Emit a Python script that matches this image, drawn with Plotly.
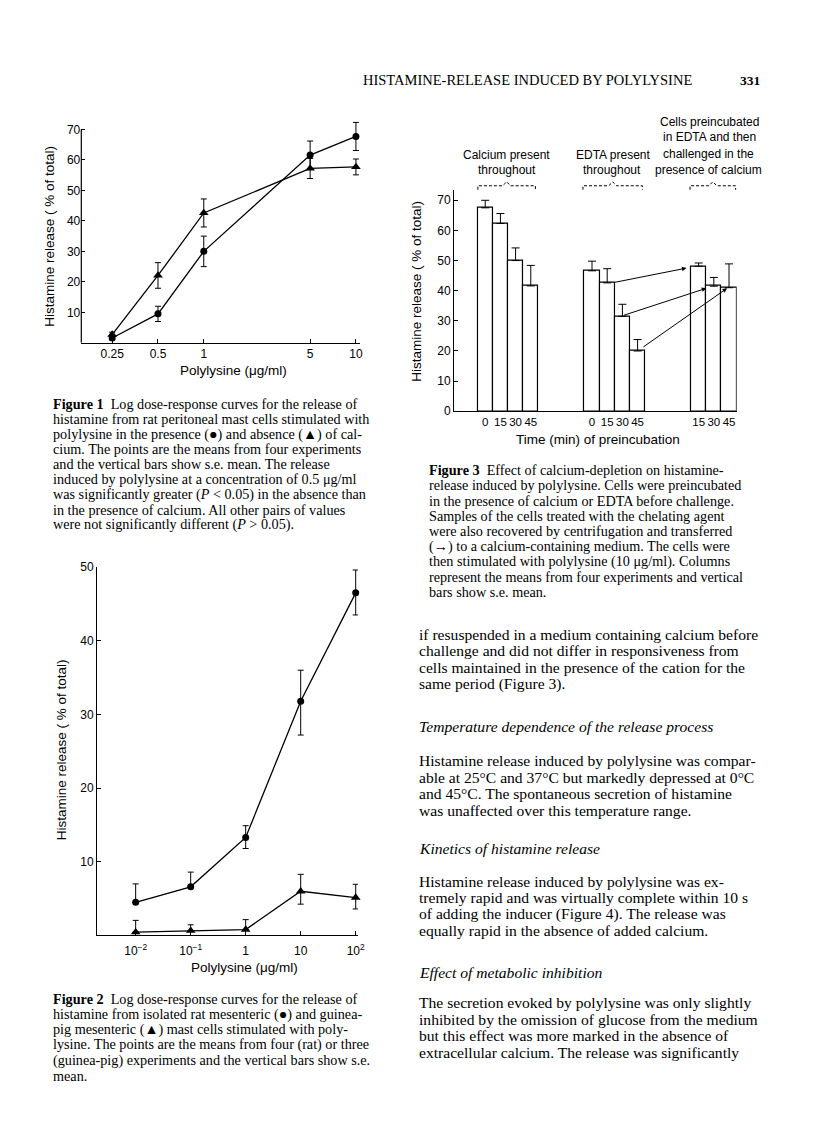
import plotly.graph_objects as go

W, H = 816, 1142
SANS = "Liberation Sans, Arial, Helvetica, sans-serif"
SERIF = "Liberation Serif, Times New Roman, serif"

# ---------------- data ----------------
# Figure 1
conc1 = [0.25, 0.5, 1, 5, 10]
conc1_labels = ["0.25", "0.5", "1", "5", "10"]
ca_present = [1.6, 9.5, 30.0, 61.6, 67.7]
ca_present_se = [0.6, 2.5, 5.0, 4.6, 4.6]
ca_absent = [2.7, 22.1, 42.6, 57.2, 57.7]
ca_absent_se = [0.8, 4.2, 4.6, 3.3, 2.6]
fig1_yticks = [10, 20, 30, 40, 50, 60, 70]

# Figure 2
conc2 = [0.01, 0.1, 1, 10, 100]
conc2_labels = ["10<sup>\u22122</sup>", "10<sup>\u22121</sup>", "1", "10", "10<sup>2</sup>"]
rat = [4.5, 6.6, 13.3, 31.8, 46.5]
rat_err_up = [2.5, 2.0, 1.6, 4.2, 3.1]
rat_err_down = [0, 0, 1.5, 4.6, 3.0]
guinea_pig = [0.45, 0.65, 0.8, 6.0, 5.15]
gp_err_up = [1.6, 0.8, 1.35, 2.3, 1.8]
gp_err_down = [0, 0, 0, 1.75, 1.55]
fig2_yticks = [10, 20, 30, 40, 50]

# Figure 3
time_ca = ["0", "15", "30", "45"]
ca_throughout = [67.5, 62.3, 50.0, 41.6]
ca_throughout_se = [2.5, 3.3, 4.2, 6.8]
time_edta = ["0", "15", "30", "45"]
edta_throughout = [46.6, 42.6, 31.5, 20.0]
edta_throughout_se = [3.2, 4.7, 4.0, 3.8]
time_edta_ca = ["15", "30", "45"]
edta_then_ca = [48.1, 41.5, 41.0]
edta_then_ca_se = [1.1, 2.9, 7.9]
fig3_yticks = [0, 10, 20, 30, 40, 50, 60, 70]


def px(x):
    return x / W


def py(y):
    return 1 - y / H


fig = go.Figure()

# ---------------- Figure 1 ----------------
line_style = dict(color="black", width=1.3)
fig.add_trace(go.Scatter(
    x=conc1, y=ca_present, mode="lines+markers", xaxis="x", yaxis="y",
    line=line_style, marker=dict(symbol="circle", size=7, color="black"),
    error_y=dict(type="data", array=ca_present_se, color="black", thickness=1, width=3),
    cliponaxis=False, showlegend=False))
fig.add_trace(go.Scatter(
    x=conc1, y=ca_absent, mode="lines+markers", xaxis="x", yaxis="y",
    line=line_style, marker=dict(symbol="triangle-up", size=8.5, color="black"),
    error_y=dict(type="data", array=ca_absent_se, color="black", thickness=1, width=3),
    cliponaxis=False, showlegend=False))

# ---------------- Figure 2 ----------------
fig.add_trace(go.Scatter(
    x=conc2, y=rat, mode="lines+markers", xaxis="x2", yaxis="y2",
    line=line_style, marker=dict(symbol="circle", size=7, color="black"),
    error_y=dict(type="data", symmetric=False, array=rat_err_up, arrayminus=rat_err_down,
                 color="black", thickness=1, width=3),
    cliponaxis=False, showlegend=False))
fig.add_trace(go.Scatter(
    x=conc2, y=guinea_pig, mode="lines+markers", xaxis="x2", yaxis="y2",
    line=line_style, marker=dict(symbol="triangle-up", size=8.5, color="black"),
    error_y=dict(type="data", symmetric=False, array=gp_err_up, arrayminus=gp_err_down,
                 color="black", thickness=1, width=3),
    cliponaxis=False, showlegend=False))

# ---------------- Figure 3 ----------------
group_start = [1.55, 8.58, 15.6]
groups = [(time_ca, ca_throughout, ca_throughout_se),
          (time_edta, edta_throughout, edta_throughout_se),
          (time_edta_ca, edta_then_ca, edta_then_ca_se)]
centers = []
tickvals3, ticktext3 = [], []
for g, (labels, vals, se) in enumerate(groups):
    xs = [group_start[g] + i + 0.5 for i in range(len(vals))]
    centers.append(xs)
    tickvals3 += xs
    ticktext3 += labels
    fig.add_trace(go.Bar(
        x=xs, y=vals, width=1, xaxis="x3", yaxis="y3",
        marker=dict(color="white", line=dict(color="black", width=1.2)),
        error_y=dict(type="data", symmetric=False, array=se, arrayminus=[0] * len(se),
                     color="black", thickness=1, width=4),
        cliponaxis=False, showlegend=False))

axis_common = dict(showgrid=False, zeroline=False, color="black",
                   tickfont=dict(family=SANS, size=12, color="black"),
                   ticks="inside", ticklen=4, tickwidth=1, linecolor="black", linewidth=1.2)

fig.update_layout(
    width=W, height=H, margin=dict(l=0, r=0, t=0, b=0),
    paper_bgcolor="white", plot_bgcolor="rgba(0,0,0,0)", bargap=0,
    xaxis=dict(domain=[px(82), px(363)], type="log", range=[-0.805, 1.026], anchor="y",
               tickvals=conc1, ticktext=conc1_labels, showline=True, **axis_common),
    yaxis=dict(domain=[py(340), py(114.7)], range=[0, 73], anchor="x",
               tickvals=fig1_yticks, showline=False, **axis_common),
    xaxis2=dict(domain=[px(98), px(361)], type="log", range=[-2.70, 2.04], anchor="y2",
                tickvals=conc2, ticktext=conc2_labels, showline=True,
                ticklabelstandoff=4, **axis_common),
    yaxis2=dict(domain=[py(940), py(567)], range=[0, 50], anchor="x2",
                tickvals=fig2_yticks, showline=True, **axis_common),
    xaxis3=dict(domain=[px(458), px(743)], range=[0, 18.6], anchor="y3",
                tickvals=tickvals3, ticktext=ticktext3, showline=True,
                **{**axis_common, "ticks": "", "tickfont": dict(family=SANS, size=11.5, color="black")}),
    yaxis3=dict(domain=[py(409.3), py(185)], range=[0, 73.5], anchor="x3",
                tickvals=fig3_yticks, showline=True, **axis_common),
)

# y-axis line of Figure 1 (from 0 to 70)
fig.add_shape(type="line", xref="x domain", yref="y", x0=0, x1=0, y0=0, y1=70,
              line=dict(color="black", width=1.2))

# arrows in Figure 3: EDTA-treated cells transferred to calcium medium
arrow_start_dx = [0.32, 0.0, 0.28]
arrow_end_dx = [-0.8, -0.5, -0.13]
arrow_end_dy = [-0.6, -0.7, -0.2]
arrow_start_dy = [0.0, 0.2, 1.0]
for k in range(3):
    src = k + 1
    fig.add_annotation(
        x=centers[2][k] + arrow_end_dx[k], y=edta_then_ca[k] + arrow_end_dy[k],
        ax=centers[1][src] + arrow_start_dx[k], ay=edta_throughout[src] + arrow_start_dy[k],
        xref="x3", yref="y3", axref="x3", ayref="y3", text="", showarrow=True,
        arrowhead=2, arrowsize=0.9, arrowwidth=1, arrowcolor="black",
        standoff=0, startstandoff=0)


def text(x, y, s, size=12, family=SANS, xanchor="center", angle=0, color="black"):
    fig.add_annotation(x=px(x), y=py(y), xref="paper", yref="paper", text=s,
                       showarrow=False, xanchor=xanchor, yanchor="middle", textangle=angle,
                       borderpad=0, font=dict(family=family, size=size, color=color))


def lines(x, y0, dy, rows, size, family=SERIF):
    for i, r in enumerate(rows):
        text(x, y0 + i * dy, r, size=size, family=family, xanchor="left")


# axis titles
text(50, 232, "Histamine release ( % of total)", size=13.5, angle=-90)
text(236, 368, "Polylysine (\u03bcg/ml)", size=13.5)
text(62, 752, "Histamine release ( % of total)", size=13.5, angle=-90)
text(247, 972, "Polylysine (\u03bcg/ml)", size=13.5)
text(420, 288, "Histamine release ( % of total)", size=13.5, angle=-90)
text(603, 438, "Time (min) of preincubation", size=13.5)

# group labels for Figure 3
text(511, 150, "Calcium present", size=12)
text(511, 165, "throughout", size=12)
text(618, 150, "EDTA present", size=12)
text(617, 165, "throughout", size=12)
text(716, 116, "Cells preincubated", size=12)
text(716, 132, "in EDTA and then", size=12)
text(715, 149, "challenged in the", size=12)
text(715, 165, "presence of calcium", size=12)

# braces
for (x0, x1) in [(482, 540), (588, 648), (696, 742)]:
    xm = (x0 + x1) / 2
    yb = 181
    pts = [(x0, yb + 4), (x0, yb), (xm - 4, yb), (xm, yb - 4), (xm + 4, yb), (x1, yb), (x1, yb + 4)]
    path = "M " + " L ".join(f"{px(a):.5f},{py(b):.5f}" for a, b in pts)
    fig.add_shape(type="path", path=path, xref="paper", yref="paper",
                  line=dict(color="black", width=1, dash="3px,2px"))

# page header
text(365, 74, "HISTAMINE-RELEASE INDUCED BY POLYLYSINE", size=14.5, family=SERIF, xanchor="left")
text(745, 74, "<b>331</b>", size=13.5, family=SERIF, xanchor="left")

# captions
CAP = 14.2
lines(52, 402, 15.25, [
    "<b>Figure 1</b>  Log dose-response curves for the release of",
    "histamine from rat peritoneal mast cells stimulated with",
    "polylysine in the presence (\u25cf) and absence (\u25b2) of cal-",
    "cium. The points are the means from four experiments",
    "and the vertical bars show s.e. mean. The release",
    "induced by polylysine at a concentration of 0.5 \u03bcg/ml",
    "was significantly greater (<i>P</i> < 0.05) in the absence than",
    "in the presence of calcium. All other pairs of values",
    "were not significantly different (<i>P</i> > 0.05).",
], CAP)

lines(52, 1004, 15.6, [
    "<b>Figure 2</b>  Log dose-response curves for the release of",
    "histamine from isolated rat mesenteric (\u25cf) and guinea-",
    "pig mesenteric (\u25b2) mast cells stimulated with poly-",
    "lysine. The points are the means from four (rat) or three",
    "(guinea-pig) experiments and the vertical bars show s.e.",
    "mean.",
], CAP)

lines(432, 469, 15.4, [
    "<b>Figure 3</b>  Effect of calcium-depletion on histamine-",
    "release induced by polylysine. Cells were preincubated",
    "in the presence of calcium or EDTA before challenge.",
    "Samples of the cells treated with the chelating agent",
    "were also recovered by centrifugation and transferred",
    "(\u2192) to a calcium-containing medium. The cells were",
    "then stimulated with polylysine (10 \u03bcg/ml). Columns",
    "represent the means from four experiments and vertical",
    "bars show s.e. mean.",
], CAP)

# body text
BODY = 15.6
BX = 422
lines(BX, 635, 16.7, [
    "if resuspended in a medium containing calcium before",
    "challenge and did not differ in responsiveness from",
    "cells maintained in the presence of the cation for the",
    "same period (Figure 3).",
], BODY)
text(BX, 728, "<i>Temperature dependence of the release process</i>", size=BODY, family=SERIF, xanchor="left")
lines(BX, 763, 16.7, [
    "Histamine release induced by polylysine was compar-",
    "able at 25\u00b0C and 37\u00b0C but markedly depressed at 0\u00b0C",
    "and 45\u00b0C. The spontaneous secretion of histamine",
    "was unaffected over this temperature range.",
], BODY)
text(BX, 852, "<i>Kinetics of histamine release</i>", size=BODY, family=SERIF, xanchor="left")
lines(BX, 885, 16.7, [
    "Histamine release induced by polylysine was ex-",
    "tremely rapid and was virtually complete within 10 s",
    "of adding the inducer (Figure 4). The release was",
    "equally rapid in the absence of added calcium.",
], BODY)
text(BX, 977, "<i>Effect of metabolic inhibition</i>", size=BODY, family=SERIF, xanchor="left")
lines(BX, 1008, 16.7, [
    "The secretion evoked by polylysine was only slightly",
    "inhibited by the omission of glucose from the medium",
    "but this effect was more marked in the absence of",
    "extracellular calcium. The release was significantly",
], BODY)

fig.write_html("out.html", config={"displayModeBar": False},
               post_script="document.body.style.margin='0';")
